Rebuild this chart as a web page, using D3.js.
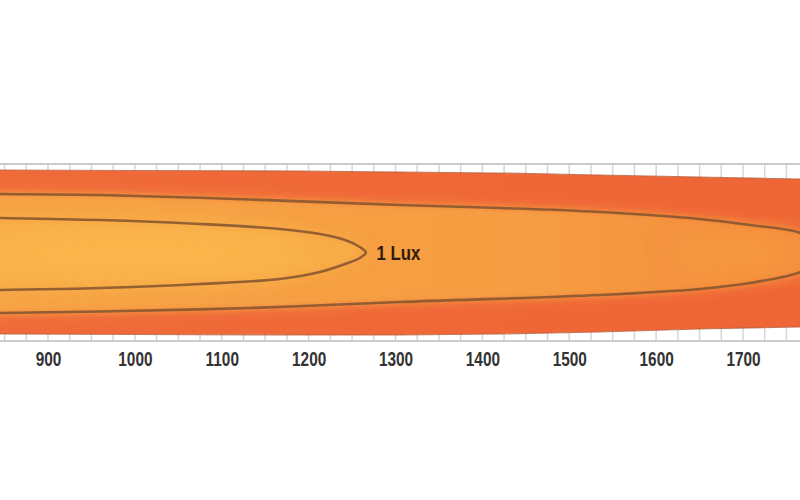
<!DOCTYPE html>
<html>
<head>
<meta charset="utf-8">
<script src="https://cdn.jsdelivr.net/npm/d3@7"></script>
<style>
  html, body { margin: 0; padding: 0; background: #ffffff; }
  svg { display: block; }
  .tick-label { font-family: "Liberation Sans", Arial, sans-serif; font-weight: bold; }
</style>
</head>
<body>
<svg id="chart" width="800" height="500"></svg>
<script>
// ---------- data ----------
const xTicks = [900, 1000, 1100, 1200, 1300, 1400, 1500, 1600, 1700];
const gridStep = 25;
const gridExtent = [800, 1825];
const gridHalfWidth = 44.25;

// outer beam boundary: [distance, lateral]
const outerUpper = [[780,41.25],[845,41.25],[1000,41],[1190,40.75],[1305,40.25],[1420,39.75],[1535,38.75],[1650,37.75],[1766,36.75],[1830,36]];
const outerLower = [[780,-40.75],[845,-40.75],[1000,-41],[1190,-41.25],[1305,-41.25],[1420,-40.75],[1535,-39.75],[1650,-38.25],[1766,-37.25],[1830,-36.5]];

// middle contour (closed)
const middleContour = [[780,29.5],[845,29.25],[960,28.75],[1132,26.5],[1305,23.75],[1420,22.25],[1535,20.25],[1650,16.75],[1708,13.75],[1766,9.75],[1781,5],[1786,0],[1781,-5],[1766,-9.75],[1708,-15.25],[1650,-18.25],[1535,-21.25],[1305,-24.75],[1132,-27.75],[960,-29.5],[845,-30.25],[780,-30.5]];

// inner contour "1 Lux" (closed)
const innerContour = [[780,17.6],[845,17.25],[960,16.25],[1075,14.25],[1167,11.75],[1213,9.25],[1242,6.25],[1259,2.75],[1266,0],[1259,-2.75],[1242,-5.75],[1213,-9.75],[1167,-13.25],[1075,-15.75],[960,-17.75],[845,-18.75],[780,-19.1]];

const contourLabel = { text: "1 Lux", distance: 1278, lateral: 0 };

// ---------- scales ----------
const svg = d3.select("#chart");
const x = d3.scaleLinear().domain([900, 1700]).range([48, 743]);
const y = d3.scaleLinear().domain([-50, 50]).range([352.5, 152.5]);

const closedLine = d3.line().x(d => x(d[0])).y(d => y(d[1])).curve(d3.curveCatmullRomClosed.alpha(0.5));

const outerPoly = outerUpper.concat(outerLower.slice().reverse());
const outerPath = d3.line().x(d => x(d[0])).y(d => y(d[1])).curve(d3.curveLinear)(outerPoly);

const defs = svg.append("defs");
defs.append("clipPath").attr("id", "beamClip").append("path").attr("d", outerPath);
defs.append("filter").attr("id", "blurS").attr("x", "-20%").attr("y", "-50%").attr("width", "140%").attr("height", "200%")
  .append("feGaussianBlur").attr("stdDeviation", 3);
defs.append("filter").attr("id", "blurM").attr("x", "-20%").attr("y", "-50%").attr("width", "140%").attr("height", "200%")
  .append("feGaussianBlur").attr("stdDeviation", 7);
defs.append("filter").attr("id", "blurL").attr("x", "-30%").attr("y", "-80%").attr("width", "160%").attr("height", "260%")
  .append("feGaussianBlur").attr("stdDeviation", 16);

const gMid = defs.append("linearGradient").attr("id", "midGrad").attr("x1", 0).attr("x2", 1).attr("y1", 0).attr("y2", 0);
gMid.append("stop").attr("offset", "0%").attr("stop-color", "#f7a546");
gMid.append("stop").attr("offset", "70%").attr("stop-color", "#f69c42");
gMid.append("stop").attr("offset", "100%").attr("stop-color", "#f4893c");

const gOut = defs.append("linearGradient").attr("id", "outGrad").attr("x1", 0).attr("x2", 1).attr("y1", 0).attr("y2", 0);
gOut.append("stop").attr("offset", "0%").attr("stop-color", "#f06b3a");
gOut.append("stop").attr("offset", "100%").attr("stop-color", "#ef6535");

// ---------- grid ----------
const grid = svg.append("g");
const gridVals = d3.range(gridExtent[0], gridExtent[1] + 1, gridStep);
grid.selectAll("line.v").data(gridVals).join("line")
  .attr("x1", d => x(d)).attr("x2", d => x(d))
  .attr("y1", y(gridHalfWidth)).attr("y2", y(-gridHalfWidth))
  .attr("stroke", "#d3d6d8").attr("stroke-width", 1.5);
[gridHalfWidth, -gridHalfWidth].forEach(v => {
  grid.append("line").attr("x1", 0).attr("x2", 800).attr("y1", y(v)).attr("y2", y(v))
    .attr("stroke", "#c9cccf").attr("stroke-width", 2);
});

// ---------- beam ----------
const beam = svg.append("g").attr("clip-path", "url(#beamClip)");
beam.append("path").attr("d", outerPath).attr("fill", "url(#outGrad)");
beam.append("path").attr("d", closedLine(middleContour)).attr("fill", "#f38b3e").attr("filter", "url(#blurM)");
beam.append("path").attr("d", closedLine(middleContour)).attr("fill", "url(#midGrad)").attr("filter", "url(#blurS)");
beam.append("path").attr("d", closedLine(innerContour)).attr("fill", "#f9ae47").attr("filter", "url(#blurM)");
beam.append("ellipse").attr("cx", x(1000)).attr("cy", y(0)).attr("rx", 170).attr("ry", 22)
  .attr("fill", "#fab94d").attr("opacity", 0.8).attr("filter", "url(#blurL)");
beam.append("ellipse").attr("cx", x(1700)).attr("cy", y(0)).attr("rx", 70).attr("ry", 14)
  .attr("fill", "#f7a543").attr("opacity", 0.7).attr("filter", "url(#blurL)");

// outer edge line
[outerUpper, outerLower].forEach(arr => {
  svg.append("path").attr("d", d3.line().x(d => x(d[0])).y(d => y(d[1]))(arr))
    .attr("fill", "none").attr("stroke", "#b4603e").attr("stroke-width", 1.2).attr("opacity", 0.8);
});

// contour lines
[middleContour, innerContour].forEach(arr => {
  svg.append("path").attr("d", closedLine(arr))
    .attr("fill", "none").attr("stroke", "#83532f").attr("stroke-width", 2.6).attr("opacity", 0.85);
});

// label
const lx = x(contourLabel.distance);
svg.append("text").attr("class", "tick-label")
  .attr("transform", `translate(${lx},${y(contourLabel.lateral)}) scale(0.84,1)`)
  .attr("dy", "0.36em")
  .attr("font-size", 20).attr("fill", "#2e1c0e")
  .text(contourLabel.text);

// ---------- axis labels ----------
const axis = d3.axisBottom(x).tickValues(xTicks).tickSize(0).tickPadding(0).tickFormat(d3.format("d"));
const ax = svg.append("g").attr("transform", "translate(0,352)").call(axis);
ax.select(".domain").remove();
ax.selectAll("text").attr("class", "tick-label").attr("font-size", 20).attr("fill", "#333333")
  .attr("dy", "0.71em").attr("transform", "scale(0.77,1)");
</script>
</body>
</html>
